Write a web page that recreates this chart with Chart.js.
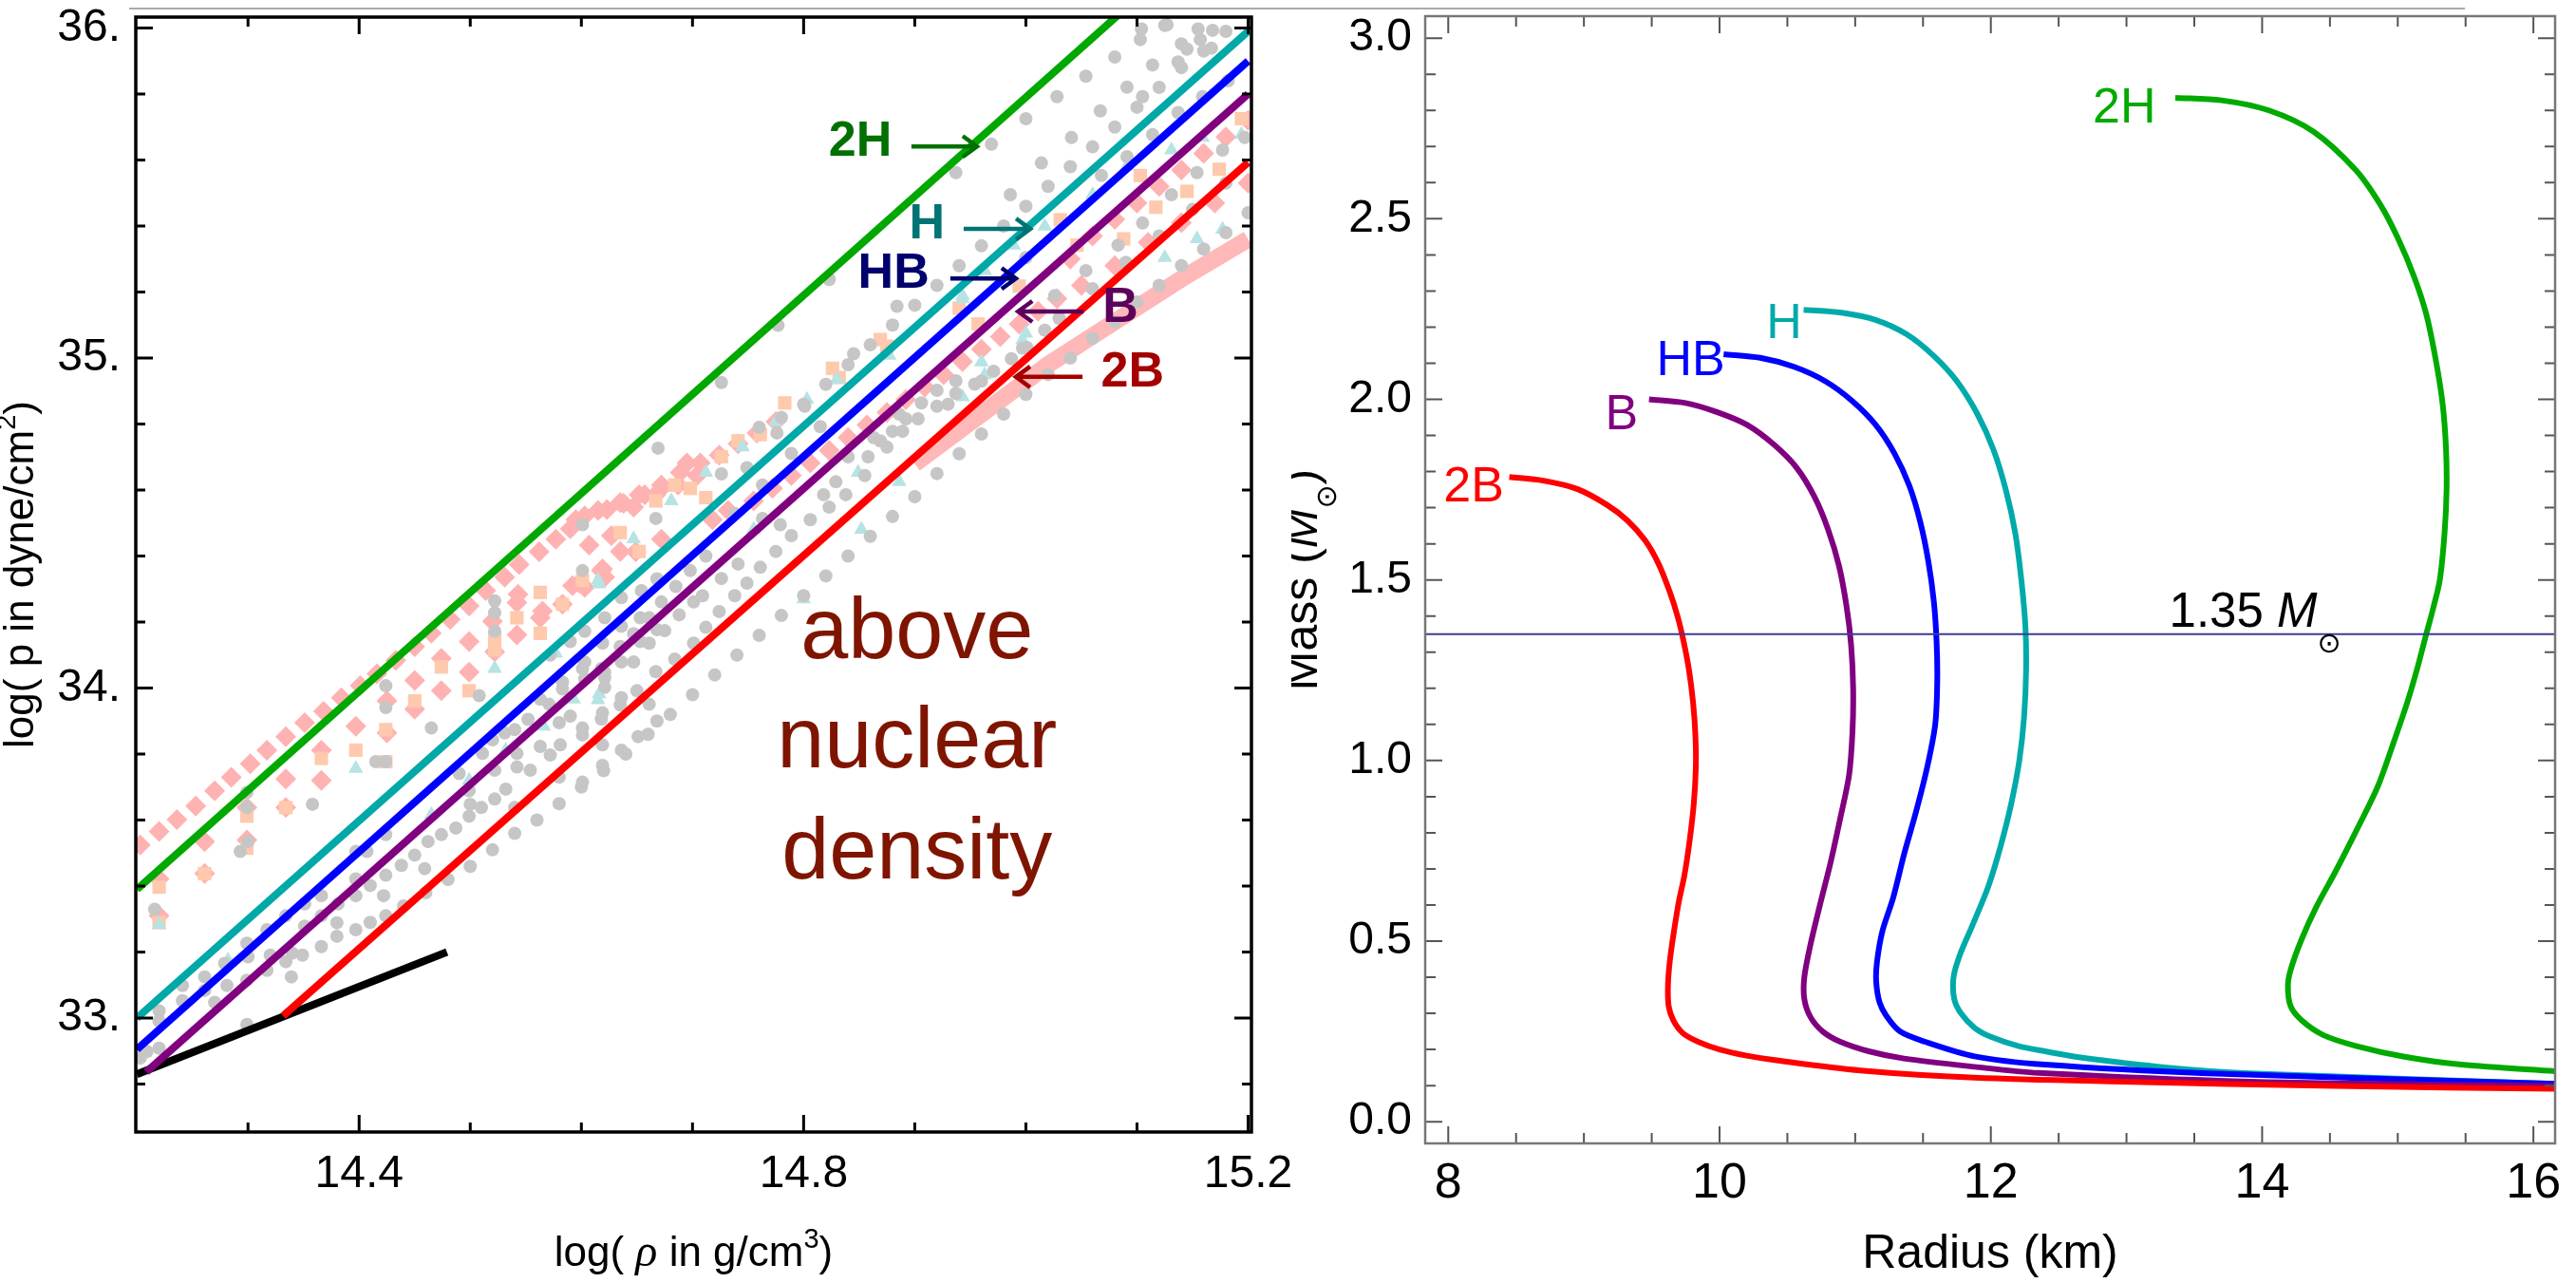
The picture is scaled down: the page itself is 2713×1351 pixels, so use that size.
<!DOCTYPE html>
<html>
<head>
<meta charset="utf-8">
<script src="https://cdn.jsdelivr.net/npm/chart.js@4.4.1/dist/chart.umd.min.js"></script>
<style>
body{margin:0;background:#fff;width:2713px;height:1351px;overflow:hidden;position:relative}
#topline{position:absolute;left:136px;top:8px;width:2460px;height:2px;background:#aaa}
.wrap{position:absolute;top:0;height:1351px}
</style>
</head>
<body>
<div id="topline"></div>
<div class="wrap" style="left:0;width:1400px"><canvas id="eos"></canvas></div>
<div class="wrap" style="left:1360px;width:1353px"><canvas id="mr"></canvas></div>
<script>
/* ---------- left panel : log p vs log rho ---------- */
let rhoTicks=[14.4,14.8,15.2];
let rhoMinor=[14.3,14.5,14.6,14.7,14.9,15.0,15.1];
let pTicks=[33,34,35,36];
let pMinor=[32.8,33.2,33.4,33.6,33.8,34.2,34.4,34.6,34.8,35.2,35.4,35.6,35.8];

// piecewise polytrope lines
let eos2H=[[14.2,33.39],[15.2,36.39]];
let eosH=[[14.2,33.0],[15.2,35.99]];
let eosHB=[[14.2,32.905],[15.2,35.90]];
let eosB=[[14.2085,32.837],[15.2,35.80]];
let eos2B=[[14.3316,33.007],[15.2,35.593]];
let crust=[[14.2,32.83],[14.479,33.20]];

// other EOS tables (gray dots)
let grayLow=[[14.41,33.29],[14.44,33.34],[14.46,33.38],[14.48,33.42],[14.50,33.46],[14.52,33.51],[14.54,33.56],[14.56,33.60],[14.58,33.65],[14.60,33.70],[14.62,33.75],[14.64,33.80],[14.66,33.86],[14.68,33.92],[14.70,33.98],[14.72,34.04],[14.74,34.10],[14.76,34.16],[14.78,34.22],[14.80,34.28],[14.82,34.34],[14.84,34.40],[14.86,34.46],[14.88,34.52],[14.90,34.58],[14.92,34.65],[14.94,34.71],[14.96,34.77],[14.98,34.83],[15.00,34.89],[15.02,34.95],[15.04,35.00],[15.06,35.06],[15.08,35.11],[15.10,35.17],[15.12,35.22],[15.14,35.28],[15.16,35.33],[15.18,35.38],[15.20,35.44]];
let grayRed=[[14.601,33.858],[14.618,33.906],[14.635,33.949],[14.650,33.992],[14.667,34.050],[14.684,34.088],[14.701,34.136],[14.712,34.184],[14.724,34.232],[14.738,34.280],[14.749,34.318],[14.761,34.366],[14.775,34.414],[14.789,34.462],[14.806,34.510],[14.823,34.548],[14.838,34.586],[14.855,34.644],[14.875,34.730],[14.889,34.778],[14.93,34.86],[14.96,34.93],[14.997,35.03],[15.03,35.12],[15.06,35.21],[15.09,35.29],[15.12,35.37],[15.15,35.45],[15.18,35.53]];
let grayBand=[[14.203,32.879],[14.209,32.899],[14.220,32.909],[14.220,32.991],[14.220,33.022],[14.241,33.053],[14.241,33.099],[14.261,33.084],[14.261,33.125],[14.270,33.048],[14.279,33.166],[14.281,33.099],[14.299,32.981],[14.299,33.115],[14.300,33.186],[14.299,33.227],[14.317,33.268],[14.317,33.145],[14.320,33.191],[14.334,33.310],[14.340,33.197],[14.334,33.171],[14.339,33.125],[14.349,33.191],[14.351,33.279],[14.366,33.217],[14.351,33.346],[14.366,33.371],[14.366,33.310],[14.380,33.289],[14.381,33.346],[14.380,33.248],[14.397,33.268],[14.397,33.371],[14.397,33.422],[14.410,33.402],[14.424,33.433],[14.424,33.310],[14.422,33.371],[14.407,33.505],[14.397,33.505],[14.424,33.556],[14.438,33.463],[14.450,33.494],[14.462,33.535],[14.459,33.453],[14.474,33.556],[14.487,33.576],[14.499,33.612],[14.510,33.638],[14.522,33.664],[14.532,33.694],[14.540,33.638],[14.490,33.741],[14.499,33.689],[14.500,33.648],[14.511,33.802],[14.520,33.843],[14.522,33.751],[14.531,33.864],[14.540,33.874],[14.542,33.802],[14.542,33.761],[14.552,33.905],[14.554,33.751],[14.563,33.823],[14.572,33.797],[14.581,33.828],[14.580,33.730],[14.601,33.715],[14.619,33.766],[14.619,33.828],[14.636,33.812],[14.651,33.853],[14.668,33.900],[14.661,33.951],[14.636,33.971],[14.619,33.925],[14.601,33.879],[14.590,33.915],[14.580,33.895],[14.571,33.951],[14.563,33.966],[14.583,33.997],[14.603,34.028],[14.621,34.048],[14.636,34.079],[14.653,34.141],[14.668,34.177],[14.653,34.213],[14.636,34.187],[14.619,34.136],[14.603,34.079],[14.583,34.018],[14.572,34.100],[14.590,34.141],[14.603,34.172],[14.621,34.213],[14.636,34.274],[14.654,34.295],[14.668,34.331]];
let grayMid=[[14.667,34.514],[14.726,34.649],[14.801,34.854],[14.815,34.792],[14.776,34.773],[14.749,34.668],[14.763,34.615],[14.789,34.711],[14.738,34.529],[14.763,34.514],[14.779,34.495],[14.712,34.400],[14.698,34.356],[14.685,34.308],[14.672,34.261],[14.661,34.213],[14.647,34.165],[14.635,34.126],[14.618,34.059],[14.741,34.376],[14.726,34.332],[14.709,34.280],[14.701,34.261],[14.688,34.222],[14.675,34.174],[14.661,34.136],[14.647,34.079],[14.621,34.031],[14.621,34.002],[14.601,34.059],[14.840,34.701],[14.863,34.759],[14.886,34.830],[14.903,34.816],[14.920,34.854],[14.937,34.893],[14.954,34.921],[14.971,34.960],[14.987,34.998],[15.001,35.032],[15.017,35.084],[14.869,34.749],[14.892,34.816],[14.906,34.864],[14.937,34.931],[14.920,34.902],[14.880,34.778],[14.858,34.701],[14.829,34.625],[14.818,34.586],[15.068,35.553],[15.091,35.610],[15.114,35.677],[15.137,35.744],[15.159,35.792],[15.182,35.840],[15.000,35.304],[15.026,35.189],[15.054,35.265],[15.083,35.342],[15.105,35.409],[15.131,35.495],[15.154,35.562],[15.177,35.630],[15.197,35.668]];
let grayCyan=[[14.76,34.79],[14.78,34.82],[14.80,34.86],[14.82,34.92],[14.84,34.98],[14.86,35.04],[14.88,35.10],[14.90,35.16],[14.92,35.22],[14.94,35.28],[14.96,35.34],[14.98,35.40],[15.00,35.46],[15.02,35.52],[15.04,35.58],[15.06,35.64],[15.08,35.70],[15.10,35.76],[15.12,35.82],[15.14,35.88],[15.16,35.93],[15.18,35.99]];
let grayUpper=[[14.969,35.648],[15.000,35.725],[15.028,35.792],[15.054,35.854],[15.080,35.912],[15.103,35.965],[15.125,36.008],[14.986,35.495],[15.014,35.591],[15.041,35.668],[15.067,35.749],[15.091,35.821],[15.114,35.888],[15.145,35.936],[15.168,35.993],[14.937,35.562],[15.105,35.792],[15.137,35.897],[15.157,35.965],[15.104,35.997],[15.127,36.010],[15.155,35.997],[15.167,35.939],[15.140,35.952],[14.884,35.157],[14.777,35.099],[14.726,34.926],[14.669,34.727],[14.845,35.013],[14.823,35.238],[14.601,34.495],[14.601,34.356],[14.424,34.007],[14.424,33.941],[14.465,33.879],[14.415,33.777],[14.424,33.777],[14.358,33.648],[14.299,33.684],[14.299,33.638],[14.293,33.505],[14.300,33.535],[14.216,33.330],[14.522,34.264],[14.522,34.228],[14.522,34.172],[14.508,33.977]];

let pinkD=[[14.203,33.525],[14.220,33.566],[14.236,33.602],[14.253,33.643],[14.270,33.689],[14.285,33.730],[14.302,33.771],[14.317,33.812],[14.334,33.853],[14.351,33.895],[14.368,33.930],[14.384,33.971],[14.401,34.007],[14.416,34.043],[14.433,34.084],[14.450,34.125],[14.465,34.166],[14.482,34.208],[14.499,34.249],[14.514,34.295],[14.531,34.336],[14.562,34.413],[14.590,34.483],[14.623,34.541],[14.657,34.586],[14.544,34.374],[14.577,34.451],[14.603,34.522],[14.638,34.560],[14.672,34.605],
[14.220,33.422],[14.261,33.535],[14.261,33.438],[14.299,33.540],[14.334,33.725],[14.334,33.638],[14.366,33.720],[14.366,33.812],[14.397,33.884],[14.425,33.961],[14.425,33.864],[14.450,33.936],[14.450,34.023],[14.474,33.992],[14.474,34.090],[14.499,34.141],[14.499,34.048],[14.520,34.202],[14.542,34.161],[14.542,34.259],[14.563,34.213],[14.583,34.254],[14.603,34.305],[14.621,34.336],[14.522,34.110],[14.299,33.638],[14.220,33.310],[14.543,34.284],[14.565,34.233],[14.592,34.310],[14.619,34.361],[14.649,34.413],[14.672,34.451],
[14.607,34.433],[14.627,34.462],[14.635,34.414],[14.598,34.318],[14.618,34.356],[14.647,34.548],[14.667,34.586],[14.687,34.615],[14.704,34.644],[14.695,34.682],[14.718,34.510],[14.732,34.538],[14.755,34.567],[14.772,34.605],[14.789,34.644],[14.806,34.682],[14.823,34.720],[14.840,34.759],[14.857,34.797],[14.875,34.835],[14.892,34.874],[14.909,34.912],[14.926,34.950],[14.943,34.989],[14.960,35.027],[14.977,35.065],[14.994,35.103],[15.011,35.142],[15.028,35.180],
[14.595,34.510],[14.615,34.538],[14.635,34.562],[14.652,34.586],[14.672,34.615],[14.689,34.653],[14.707,34.682],[14.724,34.706],[14.741,34.740],[14.758,34.773],[14.775,34.807],
[15.04,35.30],[15.06,35.37],[15.08,35.42],[15.10,35.47],[15.12,35.52],[15.14,35.57],[15.16,35.62],[15.18,35.67],[15.20,35.72],[15.05,35.22],[15.08,35.28],[15.11,35.35],[15.14,35.41],[15.17,35.47],[15.20,35.53]];
let pinkBand=[[14.90,34.68],[14.96,34.83],[15.02,34.98],[15.08,35.11],[15.14,35.24],[15.20,35.36]];
let peachS=[[14.220,33.397],[14.220,33.289],[14.299,33.612],[14.299,33.515],[14.366,33.787],[14.397,33.812],[14.424,33.777],[14.424,33.874],[14.450,33.961],[14.474,34.064],[14.499,33.992],[14.522,34.151],[14.522,34.115],[14.542,34.213],[14.563,34.166],[14.583,34.254],[14.563,34.290],[14.601,34.326],[14.334,33.638],[14.261,33.438],[14.698,34.605],[14.712,34.577],[14.684,34.615],[14.667,34.567],[14.635,34.471],[14.652,34.414],[14.726,34.701],[14.741,34.749],[14.761,34.768],[14.783,34.864],[14.826,34.969],[14.832,34.941],[14.869,35.056],[14.875,35.036],[14.940,35.151],[14.957,35.103],[14.994,35.218],[15.031,35.419],[15.046,35.342],[15.088,35.361],[15.117,35.457],[15.145,35.505],[15.174,35.572],[15.194,35.725],[15.103,35.553]];
let cyanT=[[14.220,33.284],[14.397,33.756],[14.522,34.059],[14.577,34.105],[14.616,33.982],[14.616,34.315],[14.282,33.176],[14.593,33.966],[14.465,33.617],[14.499,33.720],[14.532,33.812],[14.566,33.884],[14.681,34.567],[14.647,34.452],[14.615,34.327],[14.712,34.653],[14.745,34.730],[14.775,34.807],[14.803,34.874],[14.830,34.936],[14.877,35.008],[14.943,35.180],[14.960,34.988],[15.000,35.075],[14.849,34.653],[14.886,34.625],[14.852,34.481],[14.800,34.270],[14.615,33.964],[14.755,34.481],[14.943,35.189],[14.963,35.265],[14.989,35.342],[15.017,35.399],[15.060,35.495],[15.091,35.582],[15.131,35.630],[15.159,35.668],[15.194,35.677],[15.125,35.304],[15.154,35.361],[15.177,35.390],[14.997,35.055],[14.963,34.949],[14.943,34.882]];

/* ---------- right panel : mass vs radius ---------- */
let rTicks=[8,10,12,14,16];
let rMinor=[8.5,9,9.5,10.5,11,11.5,12.5,13,13.5,14.5,15,15.5];
let mTicks=[0,0.5,1,1.5,2,2.5,3];
let mMinor=[0.1,0.2,0.3,0.4,0.6,0.7,0.8,0.9,1.1,1.2,1.3,1.4,1.6,1.7,1.8,1.9,2.1,2.2,2.3,2.4,2.6,2.7,2.8,2.9];
let mr2B=[[8.45,1.785],[8.7,1.775],[8.95,1.752],[9.17,1.708],[9.32,1.665],[9.45,1.61],[9.55,1.545],[9.63,1.47],[9.69,1.40],[9.735,1.33],[9.775,1.25],[9.805,1.16],[9.822,1.07],[9.825,0.98],[9.81,0.88],[9.78,0.78],[9.74,0.68],[9.70,0.61],[9.665,0.53],[9.635,0.45],[9.62,0.38],[9.625,0.32],[9.66,0.28],[9.73,0.245],[9.85,0.22],[10.0,0.20],[10.2,0.183],[10.42,0.17],[11.04,0.142],[11.88,0.122],[12.97,0.111],[14.54,0.099],[16.16,0.091]];
let mrB=[[9.48,2.0],[9.75,1.99],[9.98,1.965],[10.2,1.93],[10.4,1.875],[10.57,1.81],[10.7,1.73],[10.8,1.64],[10.88,1.54],[10.935,1.43],[10.97,1.32],[10.985,1.2],[10.98,1.08],[10.955,0.96],[10.89,0.84],[10.82,0.72],[10.74,0.6],[10.67,0.49],[10.625,0.40],[10.625,0.34],[10.67,0.29],[10.76,0.25],[10.887,0.222],[11.1,0.195],[11.36,0.175],[11.88,0.152],[12.35,0.135],[13.91,0.111],[16.16,0.099]];
let mrHB=[[10.03,2.125],[10.3,2.115],[10.55,2.09],[10.78,2.05],[10.98,1.995],[11.15,1.93],[11.29,1.85],[11.4,1.76],[11.48,1.66],[11.54,1.55],[11.58,1.44],[11.60,1.33],[11.605,1.22],[11.59,1.10],[11.53,0.98],[11.45,0.86],[11.36,0.74],[11.28,0.62],[11.2,0.527],[11.16,0.44],[11.155,0.387],[11.18,0.33],[11.23,0.293],[11.33,0.25],[11.51,0.222],[11.88,0.181],[12.4,0.158],[13.6,0.134],[16.16,0.105]];
let mrH=[[10.62,2.248],[10.9,2.24],[11.15,2.22],[11.38,2.18],[11.58,2.12],[11.75,2.05],[11.9,1.96],[12.02,1.86],[12.11,1.75],[12.18,1.63],[12.225,1.5],[12.255,1.37],[12.26,1.25],[12.245,1.12],[12.21,1.0],[12.15,0.88],[12.07,0.76],[11.98,0.65],[11.86,0.54],[11.77,0.46],[11.725,0.40],[11.73,0.34],[11.78,0.30],[11.88,0.26],[12.0,0.235],[12.2,0.21],[12.4,0.195],[12.66,0.178],[13.3,0.15],[13.91,0.134],[16.16,0.105]];
let mr2H=[[13.36,2.835],[13.7,2.828],[14.05,2.8],[14.38,2.741],[14.69,2.635],[14.87,2.54],[15.00,2.447],[15.12,2.34],[15.21,2.236],[15.28,2.11],[15.33,1.99],[15.355,1.87],[15.36,1.75],[15.345,1.63],[15.31,1.50],[15.26,1.42],[15.21,1.35],[15.14,1.25],[15.07,1.161],[14.96,1.04],[14.85,0.926],[14.70,0.81],[14.54,0.692],[14.40,0.595],[14.29,0.504],[14.21,0.42],[14.19,0.375],[14.21,0.32],[14.29,0.281],[14.45,0.24],[14.69,0.21],[15.05,0.18],[15.47,0.158],[16.16,0.14]];
let refMass=1.35;

const F='"Liberation Sans", Arial, Helvetica, sans-serif';

/* helpers */
function P(a){return a.map(p=>({x:p[0],y:p[1]}));}
function line(d,c,w,o,t){return {data:P(d),showLine:true,borderColor:c,borderWidth:w,pointRadius:0,fill:false,order:o,tension:t||0};}
function dots(d,style,r,c,o){return {data:P(d),showLine:false,pointStyle:style,pointRadius:r,pointBackgroundColor:c,pointBorderWidth:0,pointBorderColor:c,order:o};}

// text in pieces: [text, font, dy]
function rich(ctx,segs,cx,cy,rot){
ctx.save();
ctx.translate(cx,cy);ctx.rotate(rot||0);
ctx.textAlign="left";ctx.textBaseline="alphabetic";
let w=0;
segs.forEach(s=>{ctx.font=s[1];w+=ctx.measureText(s[0]).width;});
let x=-w/2;
segs.forEach(s=>{ctx.font=s[1];ctx.fillText(s[0],x,s[2]||0);x+=ctx.measureText(s[0]).width;});
ctx.restore();
}
function richLeft(ctx,segs,x,y){
ctx.textAlign="left";ctx.textBaseline="alphabetic";
segs.forEach(s=>{ctx.font=s[1];ctx.fillText(s[0],x,y+(s[2]||0));x+=ctx.measureText(s[0]).width;});
}

/* frame with inward ticks on all 4 sides */
function framePlugin(o){
return {id:"frame"+o.key,afterDatasetsDraw(chart){
const {ctx,chartArea:a,scales:{x,y}}=chart;
ctx.save();
ctx.strokeStyle=o.tickColor;ctx.lineWidth=o.tickWidth;
ctx.beginPath();
const tx=(v,len)=>{let p=x.getPixelForValue(v);ctx.moveTo(p,a.bottom);ctx.lineTo(p,a.bottom-len);ctx.moveTo(p,a.top);ctx.lineTo(p,a.top+len);};
const ty=(v,len)=>{let p=y.getPixelForValue(v);ctx.moveTo(a.left,p);ctx.lineTo(a.left+len,p);ctx.moveTo(a.right,p);ctx.lineTo(a.right-len,p);};
o.xMajor.forEach(v=>tx(v,o.major));o.xMinor.forEach(v=>tx(v,o.minor));
o.yMajor.forEach(v=>ty(v,o.major));o.yMinor.forEach(v=>ty(v,o.minor));
ctx.stroke();
ctx.strokeStyle=o.color;ctx.lineWidth=o.width;
ctx.strokeRect(a.left,a.top,a.right-a.left,a.bottom-a.top);
ctx.restore();
}};
}

/* labels with arrows on the left panel */
let leftTags=[
{text:"2H",color:"#007000",x:14.851,y:35.655,from:14.897,to:14.956,ay:35.641},
{text:"H",color:"#007373",x:14.911,y:35.405,from:14.944,to:15.004,ay:35.391},
{text:"HB",color:"#00006e",x:14.881,y:35.253,from:14.932,to:14.991,ay:35.241},
{text:"B",color:"#5c005c",x:15.085,y:35.152,from:15.052,to:14.993,ay:35.141},
{text:"2B",color:"#a40000",x:15.096,y:34.954,from:15.051,to:14.991,ay:34.943}
];
let rightTags=[
{text:"2B",color:"#ff0000",x:8.41,y:1.755},
{text:"B",color:"#800080",x:9.40,y:1.956},
{text:"HB",color:"#0000ff",x:10.04,y:2.106},
{text:"H",color:"#00aaaa",x:10.607,y:2.208},
{text:"2H",color:"#00aa00",x:13.217,y:2.805}
];

const leftText={id:"leftText",afterDraw(chart){
const {ctx,chartArea:a,scales:{x,y}}=chart;
ctx.save();
ctx.fillStyle="#000";
rich(ctx,[["log( ","44px "+F],["ρ",'italic 48px "Liberation Serif", serif'],[" in g/cm","44px "+F],["3","29px "+F,-19],[")","44px "+F]],(a.left+a.right)/2,1333,0);
rich(ctx,[["log( p in dyne/cm","44px "+F],["2","29px "+F,-19],[")","44px "+F]],35,(a.top+a.bottom)/2,-Math.PI/2);
// above nuclear density
ctx.fillStyle="#7f1500";ctx.font="90px "+F;ctx.textAlign="center";ctx.textBaseline="alphabetic";
let cx=x.getPixelForValue(14.902);
ctx.fillText("above",cx,y.getPixelForValue(34.092));
ctx.fillText("nuclear",cx,y.getPixelForValue(33.759));
ctx.fillText("density",cx,y.getPixelForValue(33.422));
// tags + arrows
leftTags.forEach(t=>{
ctx.fillStyle=t.color;ctx.font="bold 52px "+F;ctx.textAlign="center";ctx.textBaseline="middle";
ctx.fillText(t.text,x.getPixelForValue(t.x),y.getPixelForValue(t.y));
let x0=x.getPixelForValue(t.from),x1=x.getPixelForValue(t.to),yy=y.getPixelForValue(t.ay),d=Math.sign(x1-x0);
ctx.strokeStyle=t.color;ctx.lineWidth=4.5;
ctx.beginPath();ctx.moveTo(x0,yy);ctx.lineTo(x1,yy);
ctx.moveTo(x1-d*15,yy-11);ctx.lineTo(x1,yy);ctx.lineTo(x1-d*15,yy+11);
ctx.stroke();
});
ctx.restore();
}};

const rightText={id:"rightText",afterDraw(chart){
const {ctx,chartArea:a,scales:{x,y}}=chart;
ctx.save();
ctx.fillStyle="#000";
rich(ctx,[["Radius (km)","50px "+F]],(a.left+a.right)/2,1335,0);
rich(ctx,[["Mass (","50px "+F],["M","italic 50px "+F],["⊙",'30px "DejaVu Sans", sans-serif',20],[")","50px "+F]],a.left-114,(a.top+a.bottom)/2,-Math.PI/2);
rightTags.forEach(t=>{
ctx.fillStyle=t.color;ctx.font="52px "+F;ctx.textAlign="right";ctx.textBaseline="middle";
ctx.fillText(t.text,x.getPixelForValue(t.x),y.getPixelForValue(t.y));
});
ctx.fillStyle="#000";
richLeft(ctx,[["1.35 ","51px "+F],["M","italic 51px "+F],["⊙",'30px "DejaVu Sans", sans-serif',27]],x.getPixelForValue(13.315),y.getPixelForValue(1.37));
ctx.restore();
}};

Chart.defaults.font.family=F;
Chart.defaults.color="#000";

function axis(min,max,ticks,fmt,size,pad,fitKey,fitVal){
return {type:"linear",min:min,max:max,
grid:{display:false,drawTicks:false},border:{display:false},
afterBuildTicks:s=>{s.ticks=ticks.map(v=>({value:v}));},
ticks:{callback:fmt,font:{size:size},color:"#000",padding:pad,maxRotation:0,autoSkip:false},
afterFit:s=>{s[fitKey]=fitVal;s.paddingTop=0;s.paddingBottom=0;s.paddingLeft=0;s.paddingRight=0;}};
}

new Chart(document.getElementById("eos"),{
type:"scatter",
data:{datasets:[
line(eos2H,"#00a800",8,10),
line(eosH,"#00a8a8",8,10),
line(eosHB,"#0000ff",8,10),
line(eosB,"#800080",8,10),
line(eos2B,"#ff0000",8,10),
line(crust,"#000000",8,15),
dots(grayLow,"circle",7,"#c6c6c6",20),
dots(grayRed,"circle",7,"#c6c6c6",20),
dots(grayBand,"circle",7,"#c6c6c6",20),
dots(grayMid,"circle",7,"#c6c6c6",20),
dots(grayCyan,"circle",7,"#c6c6c6",20),
dots(grayUpper,"circle",7,"#c6c6c6",20),
dots(cyanT,"triangle",9,"#b6e3e3",25),
dots(peachS,"rect",10,"#ffc9ad",30),
dots(pinkD,"rectRot",11,"#ffb2b2",40),
line(pinkBand,"#ffb8b8",18,50)
]},
options:{responsive:true,maintainAspectRatio:false,animation:false,devicePixelRatio:1,events:[],
layout:{padding:{left:0,top:18,right:82,bottom:0}},
plugins:{legend:{display:false},tooltip:{enabled:false}},
scales:{
x:axis(14.199,15.203,rhoTicks,v=>v.toFixed(1),48,16,"height",159),
y:axis(32.655,36.033,pTicks,v=>v+".",48,16,"width",143)
}},
plugins:[framePlugin({key:"L",xMajor:rhoTicks,xMinor:rhoMinor,yMajor:pTicks,yMinor:pMinor,major:18,minor:10,color:"#000",width:3.5,tickColor:"#000",tickWidth:3}),leftText]
});

new Chart(document.getElementById("mr"),{
type:"scatter",
data:{datasets:[
line([[7.83,refMass],[16.16,refMass]],"#3c3c96",2,0),
line(mr2B,"#ff0000",6,10,0.3),
line(mrB,"#800080",6,10,0.3),
line(mrHB,"#0000ff",6,10,0.3),
line(mrH,"#00aaaa",6,10,0.3),
line(mr2H,"#00aa00",6,10,0.3)
]},
options:{responsive:true,maintainAspectRatio:false,animation:false,devicePixelRatio:1,events:[],
layout:{padding:{left:0,top:17,right:22,bottom:0}},
plugins:{legend:{display:false},tooltip:{enabled:false}},
scales:{
x:axis(7.83,16.16,rTicks,v=>String(v),52,11,"height",147),
y:axis(-0.06,3.061,mTicks,v=>v.toFixed(1),48,14,"width",141)
}},
plugins:[framePlugin({key:"R",xMajor:rTicks,xMinor:rMinor,yMajor:mTicks,yMinor:mMinor,major:18,minor:11,color:"#777",width:2.5,tickColor:"#555",tickWidth:2}),rightText]
});
</script>
</body>
</html>
